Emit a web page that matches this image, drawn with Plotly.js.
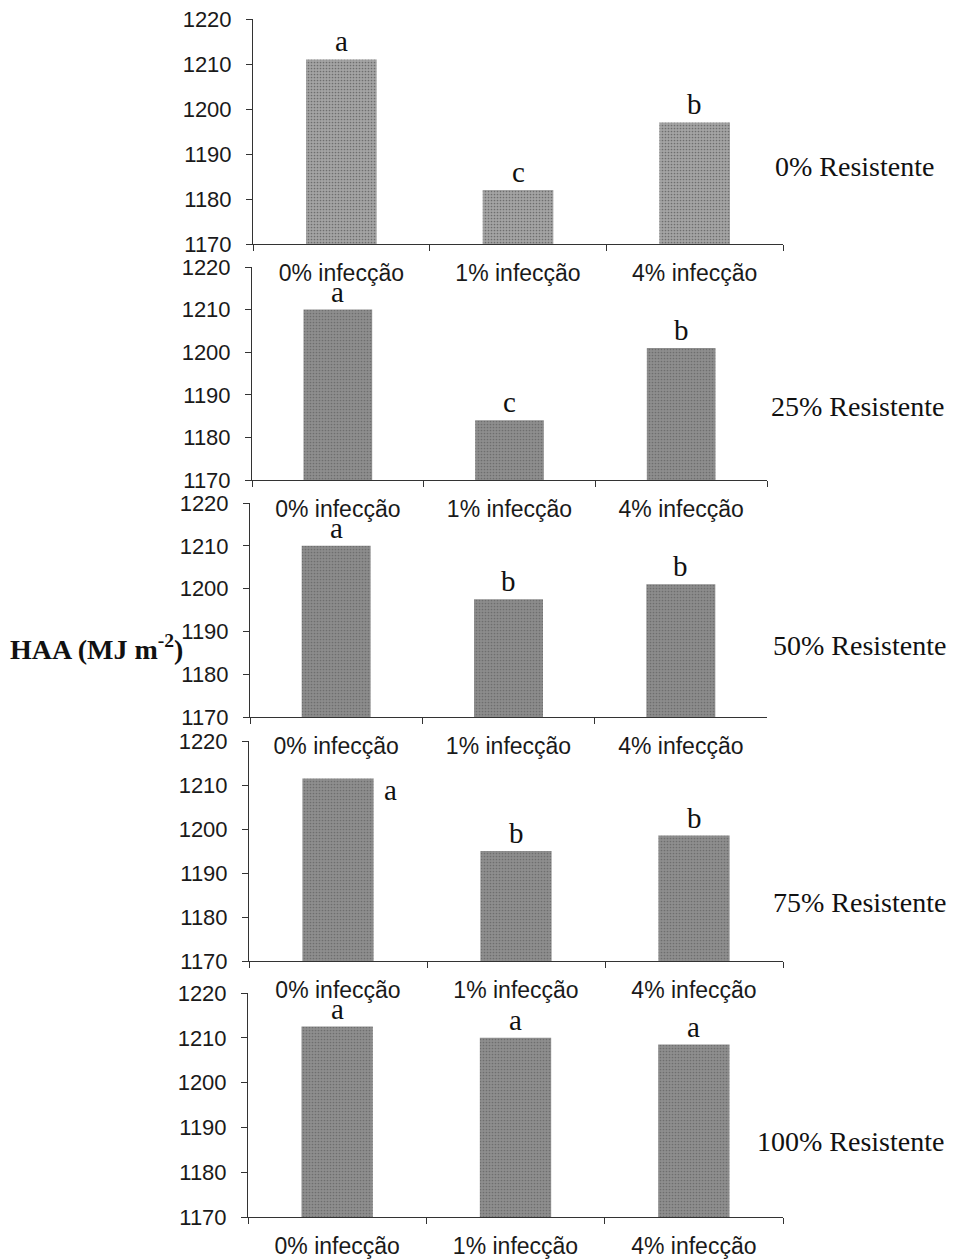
<!DOCTYPE html>
<html>
<head>
<meta charset="utf-8">
<script src="https://cdn.plot.ly/plotly-3.0.1.min.js"></script>
<style>
  html, body { margin: 0; padding: 0; background: #fff; }
  #chart { width: 955px; height: 1260px; }
</style>
</head>
<body>
<div id="chart"></div>
<script>
// ---------- DATA ----------
const categories = ['0% infecção', '1% infecção', '4% infecção'];
const panelLabels = ['0% Resistente', '25% Resistente', '50% Resistente', '75% Resistente', '100% Resistente'];
const valuesR0   = [1211, 1182, 1197];
const valuesR25  = [1210, 1184, 1201];
const valuesR50  = [1210, 1197.5, 1201];
const valuesR75  = [1211.5, 1195, 1198.5];
const valuesR100 = [1212.5, 1210, 1208.5];
const lettersR0   = ['a', 'c', 'b'];
const lettersR25  = ['a', 'c', 'b'];
const lettersR50  = ['a', 'b', 'b'];
const lettersR75  = ['a', 'b', 'b'];
const lettersR100 = ['a', 'a', 'a'];
const yTickVals = [1170, 1180, 1190, 1200, 1210, 1220];
const yAxisTitle = 'HAA (MJ m<sup>-2</sup>)';

// ---------- LAYOUT / STYLE ----------
const W = 955, H = 1260;
const allValues = [valuesR0, valuesR25, valuesR50, valuesR75, valuesR100];
const allLetters = [lettersR0, lettersR25, lettersR50, lettersR75, lettersR100];
// pixel boxes of each panel: [left, right, top, bottom]
const boxes = [
  [253, 783, 19, 244],
  [252, 767, 267, 480],
  [250, 767, 503, 717],
  [249, 783, 741, 961],
  [248, 783, 993, 1217]
];
const labelPos = [[854, 167], [857, 407], [859, 645], [859, 902], [850, 1141]];
const barColors = ['#a4a4a4', '#8e8e8e', '#8c8c8c', '#8e8e8e', '#8e8e8e'];
const sansFont = 'Liberation Sans, Arial, sans-serif';
const serifFont = 'Liberation Serif, Times New Roman, serif';

const traces = [];
const layout = {
  width: W, height: H,
  margin: {l: 0, r: 0, t: 0, b: 0},
  paper_bgcolor: '#fff', plot_bgcolor: 'rgba(0,0,0,0)',
  showlegend: false,
  bargap: 0.6,
  annotations: []
};

allValues.forEach((vals, i) => {
  const n = i === 0 ? '' : String(i + 1);
  const [l, r, t, b] = boxes[i];
  traces.push({
    type: 'bar',
    x: categories,
    y: vals.map(v => v - 1170),
    base: 1170,
    xaxis: 'x' + n, yaxis: 'y' + n,
    marker: {
      color: barColors[i],
      line: {width: 0},
      pattern: {shape: '.', fgcolor: '#6e6e6e', bgcolor: barColors[i], size: 3, solidity: 0.25}
    },
    hoverinfo: 'skip'
  });
  layout['xaxis' + n] = {
    domain: [l / W, r / W],
    anchor: 'y' + n,
    type: 'category',
    showline: true, linecolor: '#333', linewidth: 1,
    ticks: 'outside', tickson: 'boundaries', ticklen: 6, tickcolor: '#333',
    tickfont: {family: sansFont, size: 23, color: '#1a1a1a'},
    ticklabelstandoff: 8,
    showgrid: false, zeroline: false, fixedrange: true
  };
  layout['yaxis' + n] = {
    domain: [1 - b / H, 1 - t / H],
    anchor: 'x' + n,
    range: [1170, 1220],
    tickvals: yTickVals,
    showline: true, linecolor: '#333', linewidth: 1,
    ticks: 'outside', ticklen: 6, tickcolor: '#333',
    tickfont: {family: sansFont, size: 22, color: '#1a1a1a'},
    ticklabelstandoff: 10,
    showgrid: false, zeroline: false, fixedrange: true
  };
  allLetters[i].forEach((txt, j) => {
    const side = (i === 3 && j === 0);
    layout.annotations.push({
      xref: 'x' + n, yref: 'y' + n,
      x: categories[j], y: vals[j],
      text: txt, showarrow: false,
      xanchor: 'center', yanchor: side ? 'middle' : 'bottom',
      xshift: side ? 52 : 0, yshift: side ? -12 : 0,
      font: {family: serifFont, size: 29, color: '#111'}
    });
  });
  layout.annotations.push({
    xref: 'paper', yref: 'paper',
    x: labelPos[i][0] / W, y: 1 - labelPos[i][1] / H,
    text: panelLabels[i], showarrow: false,
    xanchor: 'center', yanchor: 'middle',
    font: {family: serifFont, size: 28, color: '#111'}
  });
});

layout.annotations.push({
  xref: 'paper', yref: 'paper',
  x: 96 / W, y: 1 - 648 / H,
  text: '<b>' + yAxisTitle + '</b>', showarrow: false,
  xanchor: 'center', yanchor: 'middle',
  font: {family: serifFont, size: 28, color: '#111'}
});

Plotly.newPlot('chart', traces, layout, {staticPlot: true, displayModeBar: false});
</script>
</body>
</html>
